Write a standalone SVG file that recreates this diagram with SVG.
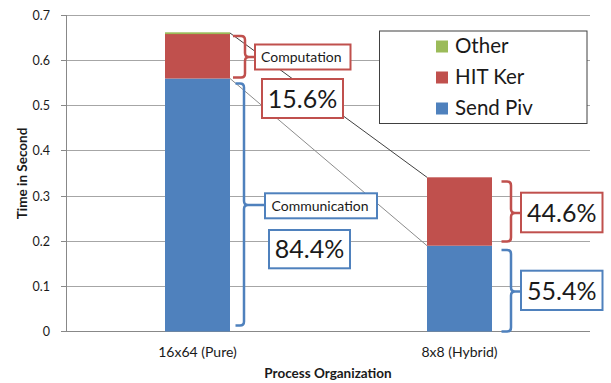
<svg xmlns="http://www.w3.org/2000/svg" width="611" height="383" viewBox="0 0 611 383">
<style>
text{font-family:Lato,"Open Sans","Liberation Sans",sans-serif;fill:#1a1a1a}
.grid{stroke:#a6a6a6;stroke-width:1;fill:none}
.axis{stroke:#888;stroke-width:1;fill:none}
.tick{font-size:12.5px;text-anchor:end}
.cat{font-size:14px;text-anchor:middle}
.title{font-size:13.5px;font-weight:bold;text-anchor:middle}
.blue{fill:#4f81bd}
.red{fill:#c0504d}
.green{fill:#9bbb59}
.brR{stroke:#c0504d;stroke-width:2.5;fill:none}
.brB{stroke:#4f81bd;stroke-width:2.5;fill:none}
.boxR{fill:#fff;stroke:#c0504d;stroke-width:2}
.boxB{fill:#fff;stroke:#4f81bd;stroke-width:2}
.small{font-size:14px}
.big{font-size:25px;text-anchor:middle}
.leg{font-size:20.5px}
</style>
<g id="axes">
<g class="grid">
<line x1="66" y1="15.5" x2="590" y2="15.5"/>
<line x1="66" y1="60.5" x2="590" y2="60.5"/>
<line x1="66" y1="105.5" x2="590" y2="105.5"/>
<line x1="66" y1="150.5" x2="590" y2="150.5"/>
<line x1="66" y1="196.5" x2="590" y2="196.5"/>
<line x1="66" y1="241.5" x2="590" y2="241.5"/>
<line x1="66" y1="286.5" x2="590" y2="286.5"/>
</g>
<g class="axis">
<line x1="66.5" y1="15" x2="66.5" y2="332"/>
<line x1="66" y1="331.5" x2="590" y2="331.5"/>
<line x1="61" y1="15.5" x2="66" y2="15.5"/>
<line x1="61" y1="60.5" x2="66" y2="60.5"/>
<line x1="61" y1="105.5" x2="66" y2="105.5"/>
<line x1="61" y1="150.5" x2="66" y2="150.5"/>
<line x1="61" y1="196.5" x2="66" y2="196.5"/>
<line x1="61" y1="241.5" x2="66" y2="241.5"/>
<line x1="61" y1="286.5" x2="66" y2="286.5"/>
<line x1="61" y1="331.5" x2="66" y2="331.5"/>
</g>
<text class="tick" x="50" y="20">0.7</text>
<text class="tick" x="50" y="65">0.6</text>
<text class="tick" x="50" y="110">0.5</text>
<text class="tick" x="50" y="155">0.4</text>
<text class="tick" x="50" y="201">0.3</text>
<text class="tick" x="50" y="246">0.2</text>
<text class="tick" x="50" y="291">0.1</text>
<text class="tick" x="50" y="336">0</text>
<text class="title" transform="translate(26.5,173.5) rotate(-90)">Time in Second</text>
<text class="cat" x="197.5" y="356.5">16x64 (Pure)</text>
<text class="cat" x="459.5" y="356.5">8x8 (Hybrid)</text>
<text class="title" x="328" y="378">Process Organization</text>
</g>
<g id="bar-pure">
<rect class="blue" x="165" y="78.5" width="65" height="253"/>
<rect class="red" x="165" y="34" width="65" height="44.5"/>
<rect class="green" x="165" y="32.3" width="65" height="1.8"/>
</g>
<g id="bar-hybrid">
<rect class="blue" x="427" y="245.7" width="65" height="85.8"/>
<rect class="red" x="427" y="177.3" width="65" height="68.4"/>
</g>
<g id="connectors">
<line x1="230" y1="33" x2="427" y2="177.3" stroke="#404040" stroke-width="1"/>
<line x1="230" y1="78.5" x2="427" y2="245.7" stroke="#8c8c8c" stroke-width="1"/>
<path class="brR" d="M233,36 H241 Q245,36 245,40 V53 Q245,57 249,57 H255 M249,57 Q245,57 245,61 V73.5 Q245,77.5 241,77.5 H233"/>
<path class="brB" d="M235.5,83.5 H240 Q244,83.5 244,87.5 V201 Q244,205 248,205 H265 M248,205 Q244,205 244,209 V321.5 Q244,325.5 240,325.5 H235.5"/>
<path class="brR" d="M501.5,181.5 H507 Q511,181.5 511,185.5 V209 Q511,213 515,213 H521 M515,213 Q511,213 511,217 V237.5 Q511,241.5 507,241.5 H501.5"/>
<path class="brB" d="M501.5,250 H507 Q511,250 511,254 V287.5 Q511,291.5 515,291.5 H521 M515,291.5 Q511,291.5 511,295.5 V327.5 Q511,331.5 507,331.5 H501.5"/>
</g>
<g id="computation">
<rect class="boxR" x="255" y="44.5" width="95.5" height="25"/>
<text class="small" x="261" y="62">Computation</text>
</g>
<g id="pct-15-6">
<rect class="boxR" x="262" y="79" width="81" height="39"/>
<text class="big" x="302.5" y="108.3">15.6%</text>
</g>
<g id="communication">
<rect class="boxB" x="265" y="193.3" width="112" height="25"/>
<text class="small" x="271.5" y="211">Communication</text>
</g>
<g id="pct-84-4">
<rect class="boxB" x="269" y="230" width="81" height="38.3"/>
<text class="big" x="309.5" y="258.3">84.4%</text>
</g>
<g id="pct-44-6">
<rect class="boxR" x="521" y="192.7" width="81.5" height="39.6"/>
<text class="big" x="561.8" y="222">44.6%</text>
</g>
<g id="pct-55-4">
<rect class="boxB" x="521" y="270.7" width="81.5" height="39.3"/>
<text class="big" x="561.8" y="299.5">55.4%</text>
</g>
<g id="legend">
<rect x="379.5" y="31" width="207.5" height="92.5" fill="#fff" stroke="#404040" stroke-width="1"/>
<rect class="green" x="436" y="40.5" width="12" height="12"/>
<rect class="red" x="436" y="71.5" width="12" height="12"/>
<rect class="blue" x="436" y="102.5" width="12" height="12"/>
<text class="leg" x="455" y="53">Other</text>
<text class="leg" x="455" y="84">HIT Ker</text>
<text class="leg" x="455" y="115">Send Piv</text>
</g>
</svg>
